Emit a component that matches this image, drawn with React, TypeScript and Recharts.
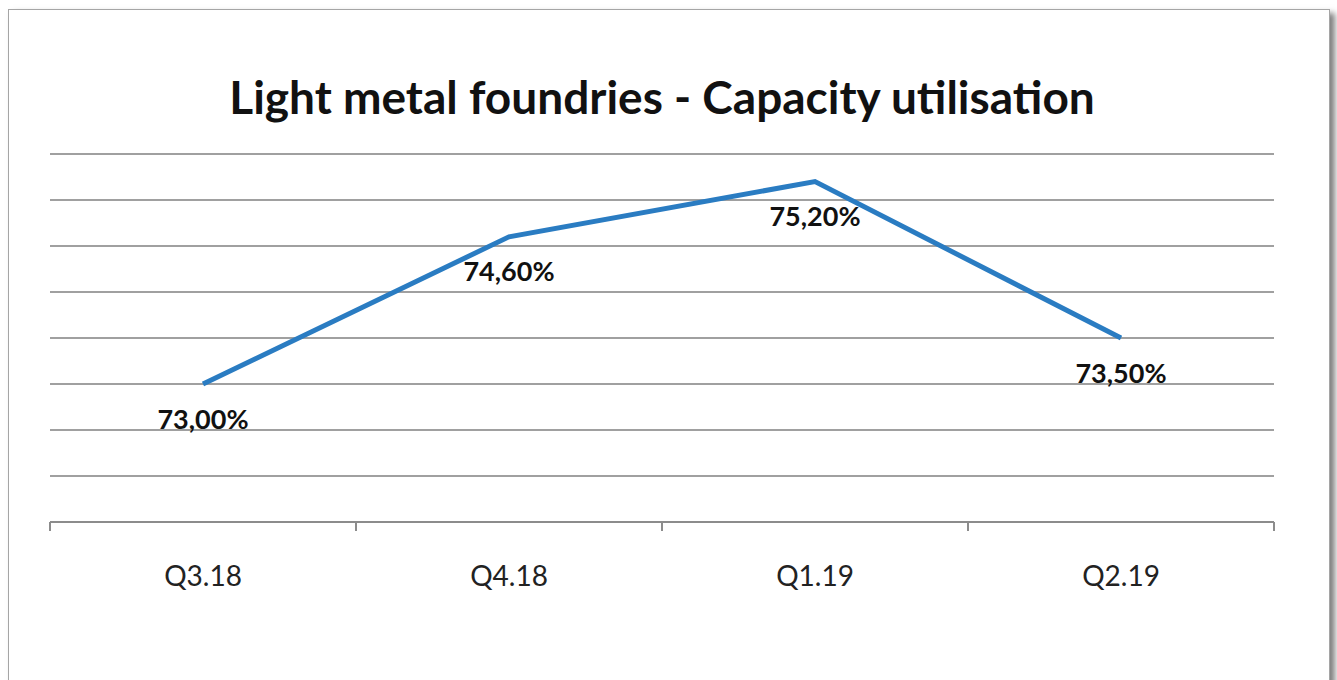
import React from 'react';
import { LineChart, Line, XAxis, YAxis, CartesianGrid, LabelList } from 'recharts';

const quarters = ['Q3.18', 'Q4.18', 'Q1.19', 'Q2.19'];
const utilisation = [73.0, 74.6, 75.2, 73.5];
const yTicks = [71.5, 72, 72.5, 73, 73.5, 74, 74.5, 75, 75.5];

const data = quarters.map((q, i) => ({ quarter: q, value: utilisation[i] }));

const W = 1337;
const H = 680;
const margin = { top: 154, right: 63, left: 50, bottom: 98 };
const band = (W - margin.left - margin.right) / quarters.length;

const fmt = (v: number) => v.toFixed(2).replace('.', ',') + '%';

const QuarterTick = (props: any) => {
  const { x, y, payload, index } = props;
  const left = x - band / 2;
  return (
    <g>
      <line x1={left} y1={y - 8} x2={left} y2={y + 1} stroke="#8c8c8c" strokeWidth={2} />
      {index === quarters.length - 1 && (
        <line x1={x + band / 2} y1={y - 8} x2={x + band / 2} y2={y + 1} stroke="#8c8c8c" strokeWidth={2} />
      )}
      <text x={x} y={y + 56} textAnchor="middle" fontFamily="Lato" fontSize={28} fill="#222">
        {payload.value}
      </text>
    </g>
  );
};

const ValueLabel = (props: any) => {
  const { x, y, value } = props;
  return (
    <text x={x} y={y + 34} textAnchor="middle" dominantBaseline="central" fontFamily="Lato" fontWeight="bold" fontSize={27} fill="#111">
      {fmt(value)}
    </text>
  );
};

export default function App() {
  return (
    <div style={{ position: 'absolute', left: 0, top: 0, width: W, height: H, overflow: 'hidden', background: '#fff' }}>
      <div
        style={{
          position: 'absolute',
          left: 8,
          top: 9,
          width: 1320,
          height: 720,
          border: '1px solid #a5a5a5',
          boxShadow: '5px 4px 6px rgba(0,0,0,0.5)',
          background: '#fff',
        }}
      />
      <div
        style={{
          position: 'absolute',
          left: 0,
          top: 69,
          width: 1324,
          textAlign: 'center',
          fontFamily: 'Lato',
          fontWeight: 'bold',
          fontSize: 46,
          color: '#111',
        }}
      >
        Light metal foundries - Capacity utilisation
      </div>
      <div style={{ position: 'absolute', left: 0, top: 0 }}>
        <LineChart width={W} height={H} data={data} margin={margin}>
          <CartesianGrid horizontal vertical={false} stroke="#a0a0a0" strokeWidth={2} />
          <XAxis
            dataKey="quarter"
            scale="band"
            height={60}
            axisLine={{ stroke: '#8c8c8c', strokeWidth: 2 }}
            tickLine={false}
            tick={<QuarterTick />}
            interval={0}
          />
          <YAxis hide domain={[71.5, 75.5]} ticks={yTicks} />
          <Line
            dataKey="value"
            stroke="#2a7cc2"
            strokeWidth={5}
            dot={false}
            isAnimationActive={false}
          >
            <LabelList dataKey="value" content={<ValueLabel />} />
          </Line>
        </LineChart>
      </div>
    </div>
  );
}
